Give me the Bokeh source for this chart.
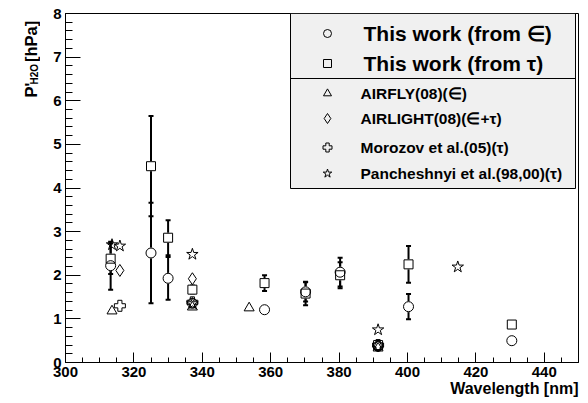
import math
from bokeh.plotting import figure
from bokeh.layouts import row
from bokeh.models import Whisker, TeeHead, Title, SingleIntervalTicker, Range1d, ColumnDataSource
from bokeh.core.properties import value
from bokeh.embed import file_html
from bokeh.resources import INLINE

# ---------------- data ----------------
wl_this = [313.2, 325.0, 330.0, 337.1, 358.2, 370.2, 380.3, 391.4, 400.3, 430.5]
p_eps = [2.22, 2.51, 1.93, 1.36, 1.21, 1.62, 2.07, 0.37, 1.28, 0.50]
p_eps_err = [0.55, 1.15, 0.49, 0.08, 0.07, 0.22, 0.33, 0.05, 0.29, 0.0]
p_tau = [2.38, 4.50, 2.86, 1.67, 1.82, 1.58, 2.00, 0.40, 2.25, 0.87]
p_tau_err = [0.35, 1.15, 0.40, 0.10, 0.18, 0.27, 0.30, 0.05, 0.42, 0.0]

wl_airfly = [313.6, 337.1, 353.7, 391.4]
p_airfly = [1.18, 1.27, 1.25, 0.33]

wl_airlight = [315.9, 337.1, 391.4]
p_airlight = [2.11, 1.92, 0.38]

wl_morozov = [315.9, 337.1, 391.4]
p_morozov = [1.30, 1.38, 0.40]

wl_panch = [313.6, 315.9, 337.1, 337.1, 391.4, 414.7]
p_panch = [2.70, 2.67, 2.48, 1.35, 0.75, 2.19]

legend_labels = ["This work (from \u2208)", "This work (from \u03c4)",
                 "AIRFLY(08)(\u2208)", "AIRLIGHT(08)(\u2208+\u03c4)",
                 "Morozov et al.(05)(\u03c4)", "Pancheshnyi et al.(98,00)(\u03c4)"]
legend_markers = ["circle", "square", "triangle", "diamond", "plus", "star"]

x_label = "Wavelength [nm]"
y_label_main = "P'"
y_label_sub = "H2O"
y_label_unit = "[hPa]"
x_ticks_interval = 20
y_ticks_interval = 1

# ---------------- layout (page pixels) ----------------
PAGE_W, PAGE_H = 588, 403
LW = 40                      # width of the side strip holding the y title
L, R, T, B = 65, 578, 13, 362  # plot frame in page pixels
XMIN, XMAX, YMIN, YMAX = 300, 450, 0, 8


def dx(px):
    return XMIN + (px - L) / (R - L) * (XMAX - XMIN)


def dy(py):
    return YMAX - (py - T) / (B - T) * (YMAX - YMIN)


FONT = value("Liberation Sans")

# ---------------- y-title strip ----------------
lf = figure(width=LW, height=PAGE_H, x_range=Range1d(0, LW), y_range=Range1d(0, PAGE_H),
            output_backend="svg", toolbar_location=None, x_axis_type=None, y_axis_type=None,
            min_border=0, min_border_left=0, min_border_right=0, min_border_top=0, min_border_bottom=0)
lf.outline_line_color = None
lf.grid.visible = False
lf.background_fill_color = "white"
lf.border_fill_color = "white"
ang = math.pi / 2
lf.text([30], [PAGE_H - 97], text=[y_label_main], angle=ang, text_font=FONT, text_font_style="bold",
        text_font_size="16.5px", text_align="left", text_baseline="alphabetic", text_color="black")
lf.text([33.5], [PAGE_H - 82], text=[y_label_sub], angle=ang, text_font=FONT, text_font_style="bold",
        text_font_size="10px", text_align="left", text_baseline="alphabetic", text_color="black")
lf.text([30], [PAGE_H - 56], text=[y_label_unit], angle=ang, text_font=FONT, text_font_style="bold",
        text_font_size="16.5px", text_align="left", text_baseline="alphabetic", text_color="black")

# ---------------- main plot ----------------
p = figure(width=PAGE_W - LW, height=PAGE_H, x_range=Range1d(XMIN, XMAX), y_range=Range1d(YMIN, YMAX),
           output_backend="svg", toolbar_location=None,
           min_border_left=L - LW, min_border_right=PAGE_W - R, min_border_top=T,
           min_border_bottom=PAGE_H - B)
p.background_fill_color = "white"
p.border_fill_color = "white"
p.outline_line_color = "black"
p.outline_line_width = 1
p.xgrid.visible = False
p.ygrid.visible = False

p.xaxis.ticker = SingleIntervalTicker(interval=x_ticks_interval, num_minor_ticks=4)
p.yaxis.ticker = SingleIntervalTicker(interval=y_ticks_interval, num_minor_ticks=5)
for ax in (p.xaxis, p.yaxis):
    ax.major_label_text_font = "Liberation Sans"
    ax.major_label_text_font_style = "bold"
    ax.major_label_text_font_size = "15px"
    ax.major_label_text_color = "black"
    ax.axis_line_color = "black"
    ax.major_tick_line_color = "black"
    ax.minor_tick_line_color = "black"
    ax.major_tick_out = 0
    ax.minor_tick_out = 0
p.xaxis.major_tick_in = 10
p.xaxis.minor_tick_in = 5
p.yaxis.major_tick_in = 15
p.yaxis.minor_tick_in = 7
p.xaxis.major_label_standoff = 4
p.yaxis.major_label_standoff = 4

p.add_layout(Title(text=x_label, align="right", vertical_align="top", standoff=0, offset=0,
                   text_font="Liberation Sans", text_font_style="bold", text_font_size="16px",
                   text_color="black"), "below")

# ---------------- error bars ----------------
src_eps = ColumnDataSource(dict(x=wl_this, y=p_eps,
                                lo=[v - e for v, e in zip(p_eps, p_eps_err)],
                                hi=[v + e for v, e in zip(p_eps, p_eps_err)]))
src_tau = ColumnDataSource(dict(x=wl_this, y=p_tau,
                                lo=[v - e for v, e in zip(p_tau, p_tau_err)],
                                hi=[v + e for v, e in zip(p_tau, p_tau_err)]))
for src in (src_tau, src_eps):
    w = Whisker(source=src, base="x", upper="hi", lower="lo", line_width=2, line_color="black",
                upper_head=TeeHead(size=5, line_width=2, line_color="black"),
                lower_head=TeeHead(size=5, line_width=2, line_color="black"), level="glyph")
    p.add_layout(w)

# markers: white interior first, then outlines
p.scatter("x", "y", source=src_tau, marker="square", size=9, fill_color="white", line_color="white", level="overlay")
p.scatter("x", "y", source=src_eps, marker="circle", size=10, fill_color="white", line_color="white", level="overlay")
p.scatter("x", "y", source=src_tau, marker="square", size=9, fill_color=None, line_color="black", line_width=1, level="overlay")
p.scatter("x", "y", source=src_eps, marker="circle", size=10, fill_color=None, line_color="black", line_width=1, level="overlay")

p.scatter(wl_airfly, p_airfly, marker="triangle", size=10, fill_color=None, line_color="black", level="overlay")
p.scatter(wl_airlight, p_airlight, marker="diamond", size=12, fill_color=None, line_color="black", level="overlay")
p.scatter(wl_morozov, p_morozov, marker="plus", size=11, fill_color=None, line_color="black", level="overlay")
p.scatter(wl_panch, p_panch, marker="star", size=12, fill_color=None, line_color="black", level="overlay")

# ---------------- legend ----------------
p.quad(left=[dx(290)], right=[dx(575)], top=[dy(13)], bottom=[dy(188)],
       fill_color="#f0f0f0", line_color="black", line_width=1)
p.segment(x0=[dx(290)], x1=[dx(575)], y0=[dy(78)], y1=[dy(78)], line_color="black", line_width=1)

row_y = [33, 63, 93, 118, 147, 173]
row_size = ["21px", "21px", "15.5px", "15.5px", "15.5px", "15.5px"]
row_tx = [363, 363, 360, 360, 360, 360]
mk_size = [8, 8, 8, 10, 9, 9]
for lab, mk, ry, fs, tx, ms in zip(legend_labels, legend_markers, row_y, row_size, row_tx, mk_size):
    p.scatter([dx(327)], [dy(ry)], marker=mk, size=ms, fill_color=None, line_color="black")
    p.text([dx(tx)], [dy(ry)], text=[lab], text_font=FONT, text_font_style="bold",
           text_font_size=fs, text_baseline="middle", text_align="left", text_color="black")

layout = row(lf, p, spacing=0)
open("out.html", "w").write(file_html(layout, INLINE))
